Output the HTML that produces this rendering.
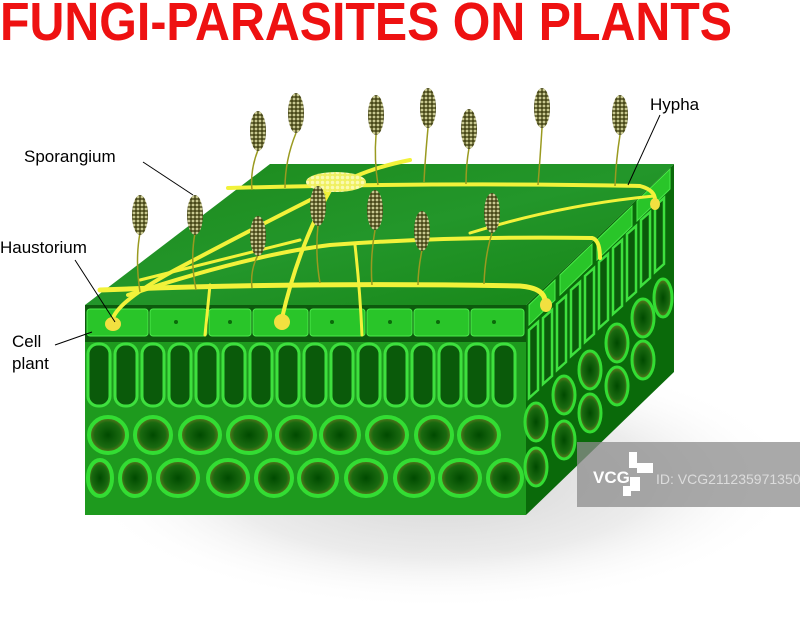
<!DOCTYPE html>
<html><head><meta charset="utf-8"><style>
html,body{margin:0;padding:0;background:#fff;}
svg{display:block;}
text{font-family:"Liberation Sans",sans-serif;}
</style></head><body>
<svg width="800" height="617" viewBox="0 0 800 617" xmlns="http://www.w3.org/2000/svg">
<defs>
<radialGradient id="shadow" cx="0.5" cy="0.5" r="0.5">
<stop offset="0" stop-color="#d4d4d4"/><stop offset="0.6" stop-color="#ececec"/><stop offset="1" stop-color="#fff" stop-opacity="0"/>
</radialGradient>
<radialGradient id="cellg" cx="0.5" cy="0.5" r="0.5">
<stop offset="0" stop-color="#004a00"/><stop offset="0.7" stop-color="#1a6a10"/><stop offset="1" stop-color="#6a7a20"/>
</radialGradient>
<linearGradient id="topg" x1="0" y1="0" x2="1" y2="1">
<stop offset="0" stop-color="#1c8a1c"/><stop offset="0.5" stop-color="#23962a"/><stop offset="1" stop-color="#168516"/>
</linearGradient>
<pattern id="dots" width="4" height="4" patternUnits="userSpaceOnUse">
<rect width="4" height="4" fill="#4a4a1a"/><circle cx="2" cy="2" r="1.4" fill="#c8c890"/>
</pattern>
<pattern id="kdots" width="5" height="5" patternUnits="userSpaceOnUse">
<rect width="5" height="5" fill="#f0f060"/><circle cx="2.5" cy="2.5" r="1.8" fill="#fafab0"/>
</pattern>
<g id="spo"><ellipse cx="0" cy="0" rx="8" ry="20" fill="url(#dots)"/></g>
</defs>

<ellipse cx="440" cy="480" rx="360" ry="130" fill="url(#shadow)"/>

<text x="0" y="40" font-size="54" font-weight="bold" fill="#ee1111" textLength="732" lengthAdjust="spacingAndGlyphs">FUNGI-PARASITES ON PLANTS</text>

<polygon points="85,305 270,164 674,164 526,305" fill="url(#topg)"/>
<polygon points="85,305 526,305 526,515 85,515" fill="#1e9a1e"/>
<polygon points="526,305 674,164 674,372 526,515" fill="#0a6a0a"/>

<rect x="85" y="305" width="441" height="37" fill="#0d5a0d"/>
<g fill="#29c529" stroke="#4aea4a" stroke-width="1">
<rect x="87" y="309" width="61" height="27" rx="3"/>
<rect x="150" y="309" width="57" height="27" rx="3"/>
<rect x="209" y="309" width="42" height="27" rx="3"/>
<rect x="253" y="309" width="55" height="27" rx="3"/>
<rect x="310" y="309" width="55" height="27" rx="3"/>
<rect x="367" y="309" width="45" height="27" rx="3"/>
<rect x="414" y="309" width="55" height="27" rx="3"/>
<rect x="471" y="309" width="53" height="27" rx="3"/>
</g>
<g fill="#0a6a0a"><circle cx="176" cy="322" r="2"/><circle cx="230" cy="322" r="2"/><circle cx="332" cy="322" r="2"/><circle cx="390" cy="322" r="2"/><circle cx="438" cy="322" r="2"/><circle cx="494" cy="322" r="2"/></g>

<g fill="#0a5a0a" stroke="#3ee03e" stroke-width="3">
<rect x="88" y="344" width="22" height="62" rx="10"/><rect x="115" y="344" width="22" height="62" rx="10"/>
<rect x="142" y="344" width="22" height="62" rx="10"/><rect x="169" y="344" width="22" height="62" rx="10"/>
<rect x="196" y="344" width="22" height="62" rx="10"/><rect x="223" y="344" width="22" height="62" rx="10"/>
<rect x="250" y="344" width="22" height="62" rx="10"/><rect x="277" y="344" width="22" height="62" rx="10"/>
<rect x="304" y="344" width="22" height="62" rx="10"/><rect x="331" y="344" width="22" height="62" rx="10"/>
<rect x="358" y="344" width="22" height="62" rx="10"/><rect x="385" y="344" width="22" height="62" rx="10"/>
<rect x="412" y="344" width="22" height="62" rx="10"/><rect x="439" y="344" width="22" height="62" rx="10"/>
<rect x="466" y="344" width="22" height="62" rx="10"/><rect x="493" y="344" width="22" height="62" rx="10"/>
</g>

<g fill="url(#cellg)" stroke="#33dd33" stroke-width="4">
<ellipse cx="108" cy="435" rx="19" ry="18"/><ellipse cx="153" cy="435" rx="18" ry="18"/>
<ellipse cx="200" cy="435" rx="20" ry="18"/><ellipse cx="249" cy="435" rx="21" ry="18"/>
<ellipse cx="296" cy="435" rx="19" ry="18"/><ellipse cx="340" cy="435" rx="19" ry="18"/>
<ellipse cx="387" cy="435" rx="20" ry="18"/><ellipse cx="434" cy="435" rx="18" ry="18"/>
<ellipse cx="479" cy="435" rx="20" ry="18"/>
<ellipse cx="100" cy="478" rx="12" ry="18"/><ellipse cx="135" cy="478" rx="15" ry="18"/>
<ellipse cx="178" cy="478" rx="20" ry="18"/><ellipse cx="228" cy="478" rx="20" ry="18"/>
<ellipse cx="274" cy="478" rx="18" ry="18"/><ellipse cx="318" cy="478" rx="19" ry="18"/>
<ellipse cx="366" cy="478" rx="20" ry="18"/><ellipse cx="414" cy="478" rx="19" ry="18"/>
<ellipse cx="460" cy="478" rx="20" ry="18"/><ellipse cx="505" cy="478" rx="17" ry="18"/>
</g>

<g fill="#0a5a0a" stroke="#3ee03e" stroke-width="2.5">
<polygon points="529,330 538,322 538,390 529,398"/>
<polygon points="543,318 552,310 552,376 543,384"/>
<polygon points="557,304 566,296 566,362 557,370"/>
<polygon points="571,290 580,282 580,348 571,356"/>
<polygon points="585,276 594,268 594,334 585,342"/>
<polygon points="599,262 608,254 608,320 599,328"/>
<polygon points="613,248 622,240 622,306 613,314"/>
<polygon points="627,234 636,226 636,292 627,300"/>
<polygon points="641,220 650,212 650,278 641,286"/>
<polygon points="655,206 664,198 664,264 655,272"/>
</g>
<g fill="#29c529" stroke="#4aea4a" stroke-width="1">
<polygon points="529,305 555,280 555,300 529,325"/>
<polygon points="560,275 592,244 592,264 560,295"/>
<polygon points="597,240 632,206 632,226 597,260"/>
<polygon points="637,201 670,169 670,189 637,221"/>
</g>
<g fill="url(#cellg)" stroke="#33dd33" stroke-width="3">
<ellipse cx="536" cy="422" rx="11" ry="19"/><ellipse cx="564" cy="395" rx="11" ry="19"/>
<ellipse cx="590" cy="370" rx="11" ry="19"/><ellipse cx="617" cy="343" rx="11" ry="19"/>
<ellipse cx="643" cy="318" rx="11" ry="19"/><ellipse cx="663" cy="298" rx="9" ry="19"/>
<ellipse cx="536" cy="467" rx="11" ry="19"/><ellipse cx="564" cy="440" rx="11" ry="19"/>
<ellipse cx="590" cy="413" rx="11" ry="19"/><ellipse cx="617" cy="386" rx="11" ry="19"/>
<ellipse cx="643" cy="360" rx="11" ry="19"/>
</g>

<g fill="none" stroke="#f2f23a" stroke-linecap="round">
<path d="M100 290 Q300 282 520 286 Q545 288 545 302" stroke-width="5"/>
<path d="M128 295 Q250 255 330 245 Q450 236 592 238 Q600 240 600 258" stroke-width="4"/>
<path d="M228 188 Q450 182 640 186 Q655 190 655 200" stroke-width="4"/>
<path d="M113 318 Q120 300 175 270 Q260 225 330 190 Q360 170 410 160" stroke-width="4"/>
<path d="M335 182 Q300 240 282 318" stroke-width="4"/>
<path d="M470 233 Q560 205 654 196" stroke-width="3"/>
<path d="M210 285 L205 335" stroke-width="3"/>
<path d="M355 245 Q360 290 362 335" stroke-width="3"/>
<path d="M140 280 Q240 255 300 240" stroke-width="3"/>
</g>
<ellipse cx="336" cy="182" rx="30" ry="10" fill="url(#kdots)"/>
<g fill="#f2e040"><ellipse cx="113" cy="324" rx="8" ry="7"/><ellipse cx="282" cy="322" rx="8" ry="8"/><ellipse cx="546" cy="305" rx="6" ry="7"/><ellipse cx="655" cy="204" rx="5" ry="6"/></g>

<g fill="none" stroke="#9a9a20" stroke-width="1.5">
<path d="M140 233 Q135 260 140 292"/><path d="M195 233 Q190 260 196 290"/>
<path d="M258 150 Q250 170 252 190"/><path d="M296 133 Q285 160 285 188"/>
<path d="M258 255 Q250 270 252 288"/><path d="M318 225 Q315 255 320 283"/>
<path d="M376 135 Q374 160 378 185"/><path d="M375 230 Q370 258 372 285"/>
<path d="M428 128 Q425 160 424 182"/><path d="M422 250 Q418 270 418 285"/>
<path d="M469 148 Q466 165 466 184"/><path d="M492 233 Q485 255 484 284"/>
<path d="M542 128 Q540 160 538 185"/><path d="M620 135 Q616 160 615 186"/>
</g>
<use href="#spo" x="140" y="215"/><use href="#spo" x="195" y="215"/>
<use href="#spo" x="258" y="131"/><use href="#spo" x="296" y="113"/>
<use href="#spo" x="258" y="236"/><use href="#spo" x="318" y="206"/>
<use href="#spo" x="376" y="115"/><use href="#spo" x="375" y="210"/>
<use href="#spo" x="428" y="108"/><use href="#spo" x="422" y="231"/>
<use href="#spo" x="469" y="129"/><use href="#spo" x="492" y="213"/>
<use href="#spo" x="542" y="108"/><use href="#spo" x="620" y="115"/>

<g font-size="17" fill="#000">
<text x="24" y="162">Sporangium</text>
<text x="0" y="253">Haustorium</text>
<text x="12" y="347">Cell</text>
<text x="12" y="369">plant</text>
<text x="650" y="110">Hypha</text>
</g>
<g stroke="#000" stroke-width="1">
<line x1="143" y1="162" x2="193" y2="195"/>
<line x1="75" y1="260" x2="115" y2="322"/>
<line x1="55" y1="345" x2="92" y2="332"/>
<line x1="660" y1="115" x2="628" y2="185"/>
</g>

<rect x="577" y="442" width="223" height="65" fill="#8c8c8c" opacity="0.75"/>
<text x="593" y="483" font-size="17" font-weight="bold" fill="#fff">VCG</text>
<g fill="#fff"><rect x="629" y="452" width="8" height="16"/><rect x="637" y="463" width="16" height="10"/><rect x="630" y="477" width="10" height="14"/><rect x="623" y="486" width="8" height="10"/></g>
<text x="656" y="484" font-size="14" fill="#dcdcdc">ID: VCG211235971350</text>
</svg>
</body></html>
